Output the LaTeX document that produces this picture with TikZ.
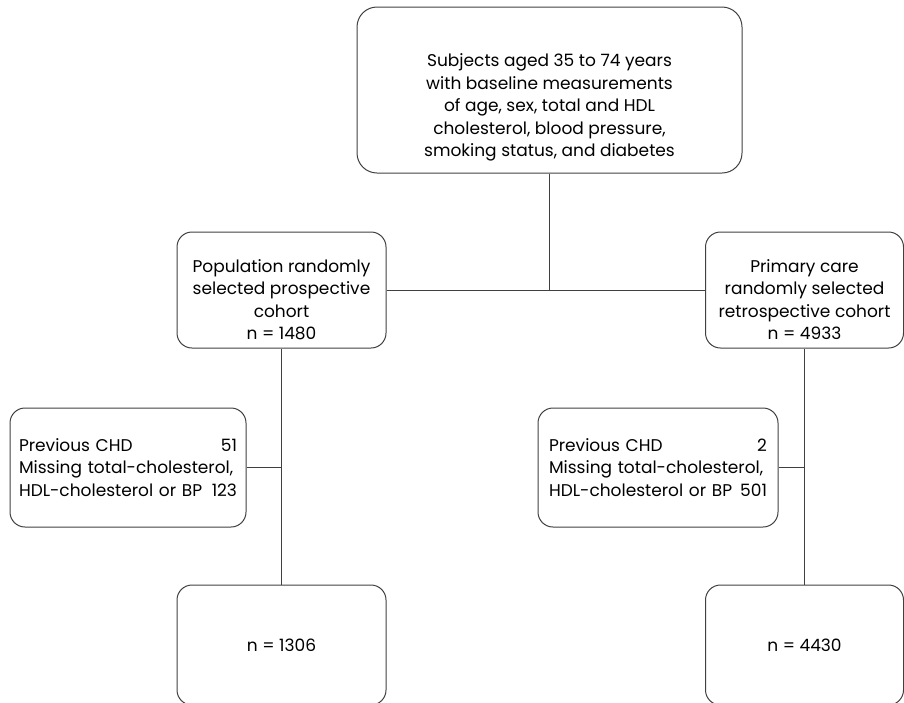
\documentclass[tikz,border=0pt]{standalone}
\usepackage{fontspec}
\setmainfont{Poppins}
\usetikzlibrary{positioning}
\newcommand\boxfont{\fontsize{17}{22.5}\selectfont}
\newcommand\numfill{\hspace{0pt plus 1filll}}
\tikzstyle{box}=[draw=black!75,line width=1pt,rounded corners=15pt,align=center,inner sep=0pt,font=\boxfont]
\tikzstyle{excl}=[box,align=left,text width=218pt,minimum width=236pt,minimum height=119pt]
\tikzstyle{link}=[draw=black!75,line width=1pt]

\begin{document}
\begin{tikzpicture}[x=1pt,y=-1pt]
  \clip (0,0) rectangle (904,702);
  \node[box,minimum width=385pt,minimum height=166pt,rounded corners=20pt] (b_top) at (549.5,90)
    {\rule{0pt}{48pt}Subjects aged 35 to 74 years\\with baseline measurements\\of age, sex, total and HDL\\cholesterol, blood pressure,\\smoking status, and diabetes};
  \node[box,minimum width=209pt,minimum height=116pt] (b_pop) at (281.5,290)
    {\rule{0pt}{32pt}Population randomly\\selected prospective\\cohort\\n = 1480};
  \node[box,minimum width=198pt,minimum height=116pt] (b_ret) at (804.5,290)
    {\rule{0pt}{32pt}Primary care\\randomly selected\\retrospective cohort\\n = 4933};
  \node[excl] (b_ex1) at (128,467.5)
    {Previous CHD \numfill 51\\Missing total-cholesterol,\\HDL-cholesterol or BP \numfill 123};
  \node[excl,minimum width=240pt] (b_ex2) at (658,467.5)
    {Previous CHD \numfill 2\\Missing total-cholesterol,\\HDL-cholesterol or BP \numfill 501};
  \node[box,minimum width=209pt,minimum height=120pt] (b_n1) at (281.5,645) {n = 1306};
  \node[box,minimum width=198pt,minimum height=120pt] (b_n2) at (804.5,645) {n = 4430};
%
  \coordinate (j_top) at (b_top |- b_pop);
  \coordinate (j_l) at (b_pop |- b_ex1);
  \coordinate (j_r) at (b_ret |- b_ex2);
  \draw[link] (b_top) -- (j_top);
  \draw[link] (b_pop) -- (b_ret);
  \draw[link] (b_pop) -- (b_n1);
  \draw[link] (b_ret) -- (b_n2);
  \draw[link] (b_ex1) -- (j_l);
  \draw[link] (b_ex2) -- (j_r);
\end{tikzpicture}
\end{document}
